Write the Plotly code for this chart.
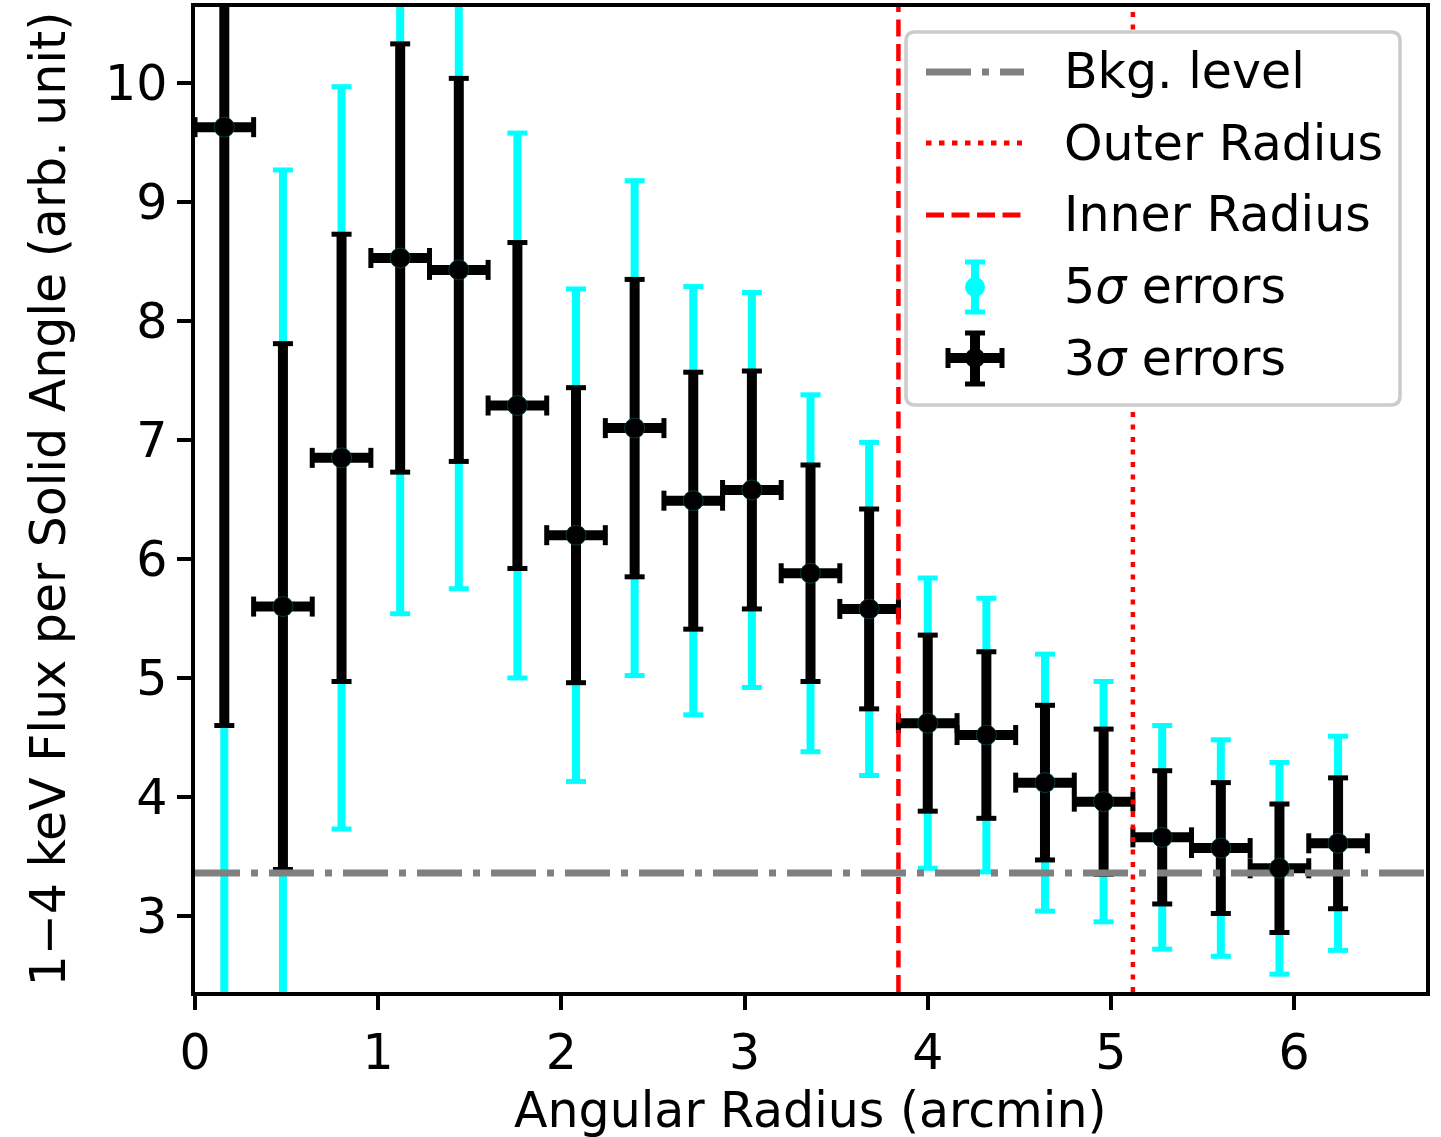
import plotly.graph_objects as go

# ---------------- data ----------------
radius = [0.16, 0.48, 0.80, 1.12, 1.44, 1.76, 2.08, 2.40, 2.72, 3.04,
          3.36, 3.68, 4.00, 4.32, 4.64, 4.96, 5.28, 5.60, 5.92, 6.24]
radius_halfwidth = [0.16, 0.16, 0.16, 0.16, 0.16, 0.16, 0.16, 0.16, 0.16, 0.16,
                    0.16, 0.16, 0.16, 0.16, 0.16, 0.16, 0.16, 0.16, 0.16, 0.16]
flux = [9.63, 5.60, 6.85, 8.53, 8.43, 7.29, 6.20, 7.10, 6.49, 6.58,
        5.88, 5.58, 4.62, 4.52, 4.12, 3.96, 3.66, 3.57, 3.40, 3.61]
err_3sigma = [5.03, 2.21, 1.88, 1.80, 1.61, 1.37, 1.24, 1.25, 1.08, 1.00,
              0.91, 0.84, 0.74, 0.70, 0.65, 0.61, 0.56, 0.55, 0.54, 0.55]
err_5sigma = [8.38, 3.67, 3.12, 2.99, 2.68, 2.29, 2.07, 2.08, 1.80, 1.66,
              1.50, 1.40, 1.22, 1.15, 1.08, 1.01, 0.94, 0.91, 0.89, 0.90]
bkg_level = 3.36
inner_radius = 3.84
outer_radius = 5.12

x_ticks = [0, 1, 2, 3, 4, 5, 6]
y_ticks = [3, 4, 5, 6, 7, 8, 9, 10]
x_range = [0, 6.72]
y_range = [2.36, 10.64]

legend_labels = ["Bkg. level", "Outer Radius", "Inner Radius",
                 "5<i>σ</i> errors", "3<i>σ</i> errors"]

# ---------------- layout geometry (pixels) ----------------
W, H = 1441, 1137
L, R, T, B = 195, 1426, 7, 992
FONT = "DejaVu Sans"
FS = 49
CYAN = "#00ffff"
GRAY = "#808080"
RED = "#ff0000"


def PX(px):
    return (px - L) / (R - L)


def PY(py):
    return (B - py) / (B - T)


fig = go.Figure()

# 5 sigma error bars (cyan)
fig.add_trace(go.Scatter(
    x=radius, y=flux, mode="markers",
    marker=dict(color=CYAN, size=20, line=dict(width=0)),
    error_y=dict(type="data", array=err_5sigma, symmetric=True,
                 color=CYAN, thickness=8, width=0),
    showlegend=False, hoverinfo="skip"))
fig.add_trace(go.Scatter(
    x=radius + radius,
    y=[f + e for f, e in zip(flux, err_5sigma)] + [f - e for f, e in zip(flux, err_5sigma)],
    mode="markers",
    marker=dict(symbol="line-ew", size=14.3, line=dict(color=CYAN, width=5)),
    showlegend=False, hoverinfo="skip"))

# 3 sigma error bars (black)
fig.add_trace(go.Scatter(
    x=radius, y=flux, mode="markers",
    marker=dict(color="rgba(0,0,0,0)", size=1),
    error_y=dict(type="data", array=err_3sigma, symmetric=True,
                 color="black", thickness=10, width=0),
    error_x=dict(type="data", array=radius_halfwidth, symmetric=True,
                 color="black", thickness=10, width=0),
    showlegend=False, hoverinfo="skip"))
fig.add_trace(go.Scatter(
    x=radius + radius,
    y=[f + e for f, e in zip(flux, err_3sigma)] + [f - e for f, e in zip(flux, err_3sigma)],
    mode="markers",
    marker=dict(symbol="line-ew", size=14.3, line=dict(color="black", width=5)),
    showlegend=False, hoverinfo="skip"))
fig.add_trace(go.Scatter(
    x=[r - h for r, h in zip(radius, radius_halfwidth)] + [r + h for r, h in zip(radius, radius_halfwidth)],
    y=flux + flux,
    mode="markers",
    marker=dict(symbol="line-ns", size=14.3, line=dict(color="black", width=5)),
    showlegend=False, hoverinfo="skip"))

# background level
fig.add_trace(go.Scatter(
    x=x_range, y=[bkg_level, bkg_level], mode="lines",
    line=dict(color=GRAY, width=7, dash="45px,11px,7px,11px"),
    showlegend=False, hoverinfo="skip"))
# inner / outer radius
fig.add_trace(go.Scatter(
    x=[inner_radius, inner_radius], y=y_range, mode="lines",
    line=dict(color=RED, width=4.5, dash="17px,7.5px"),
    showlegend=False, hoverinfo="skip"))
fig.add_trace(go.Scatter(
    x=[outer_radius, outer_radius], y=y_range, mode="lines",
    line=dict(color=RED, width=4.5, dash="5px,7.5px"),
    showlegend=False, hoverinfo="skip"))

# data point markers on top
fig.add_trace(go.Scatter(
    x=radius, y=flux, mode="markers",
    marker=dict(color="black", size=20, line=dict(color="#0b3b3b", width=1)),
    showlegend=False, hoverinfo="skip"))

# ---------------- custom legend ----------------
shapes = []
x0, x1, y0, y1, rr = 906, 1400, 32, 405, 9
path = (f"M{PX(x0+rr)},{PY(y0)} L{PX(x1-rr)},{PY(y0)} Q{PX(x1)},{PY(y0)} {PX(x1)},{PY(y0+rr)} "
        f"L{PX(x1)},{PY(y1-rr)} Q{PX(x1)},{PY(y1)} {PX(x1-rr)},{PY(y1)} "
        f"L{PX(x0+rr)},{PY(y1)} Q{PX(x0)},{PY(y1)} {PX(x0)},{PY(y1-rr)} "
        f"L{PX(x0)},{PY(y0+rr)} Q{PX(x0)},{PY(y0)} {PX(x0+rr)},{PY(y0)} Z")
shapes.append(dict(type="path", xref="paper", yref="paper", path=path,
                   fillcolor="white", line=dict(color="#cccccc", width=3.5), layer="above"))


def seg(xa, ya, xb, yb, color, width, dash="solid"):
    shapes.append(dict(type="line", xref="paper", yref="paper",
                       x0=PX(xa), y0=PY(ya), x1=PX(xb), y1=PY(yb),
                       line=dict(color=color, width=width, dash=dash), layer="above"))


def circ(cx, cy, r, color):
    shapes.append(dict(type="circle", xref="paper", yref="paper",
                       x0=PX(cx - r), x1=PX(cx + r), y0=PY(cy + r), y1=PY(cy - r),
                       fillcolor=color, line=dict(width=0), layer="above"))


rows = [72, 143, 215, 287, 358]
seg(926, rows[0], 1024, rows[0], GRAY, 7, "45px,11px,7px,11px")
seg(926, rows[1], 1022, rows[1], RED, 5, "5.5px,7.5px")
seg(926, rows[2], 1022, rows[2], RED, 5, "18px,7.5px")
# 5 sigma symbol
seg(975, 262, 975, 312, CYAN, 8)
seg(965, 262, 985, 262, CYAN, 5)
seg(965, 312, 985, 312, CYAN, 5)
circ(975, rows[3], 10, CYAN)
# 3 sigma symbol
seg(975, 333, 975, 384, "black", 10)
seg(948, rows[4], 1002, rows[4], "black", 10)
seg(965, 333, 985, 333, "black", 5)
seg(965, 384, 985, 384, "black", 5)
seg(948, rows[4] - 10, 948, rows[4] + 10, "black", 5)
seg(1002, rows[4] - 10, 1002, rows[4] + 10, "black", 5)
circ(975, rows[4], 10, "black")

annotations = []
for lab, ry in zip(legend_labels, rows):
    annotations.append(dict(text=lab, xref="paper", yref="paper", x=PX(1062), y=PY(ry),
                            xanchor="left", yanchor="middle", showarrow=False,
                            font=dict(family=FONT, size=FS, color="black")))

# axis titles
annotations.append(dict(text="Angular Radius (arcmin)", xref="paper", yref="paper",
                        x=0.5, y=PY(1110), xanchor="center", yanchor="middle",
                        showarrow=False, font=dict(family=FONT, size=FS, color="black")))
annotations.append(dict(text="1−4 keV Flux per Solid Angle (arb. unit)", xref="paper", yref="paper",
                        x=PX(48), y=0.5, xanchor="center", yanchor="middle", textangle=-90,
                        showarrow=False, font=dict(family=FONT, size=FS, color="black")))

axis_common = dict(showline=True, linecolor="black", linewidth=3.5, mirror=True,
                   ticks="outside", ticklen=14, tickwidth=3.5, tickcolor="black",
                   showgrid=False, zeroline=False,
                   tickfont=dict(family=FONT, size=FS, color="black"))

fig.update_layout(
    width=W, height=H,
    margin=dict(l=L, r=W - R, t=T, b=H - B, autoexpand=False),
    paper_bgcolor="white", plot_bgcolor="white",
    showlegend=False,
    xaxis=dict(range=x_range, tickvals=x_ticks, ticktext=[str(v) for v in x_ticks], **axis_common),
    yaxis=dict(range=y_range, tickvals=y_ticks, ticktext=[str(v) for v in y_ticks], **axis_common),
    shapes=shapes, annotations=annotations,
)

fig.write_html("out.html")
